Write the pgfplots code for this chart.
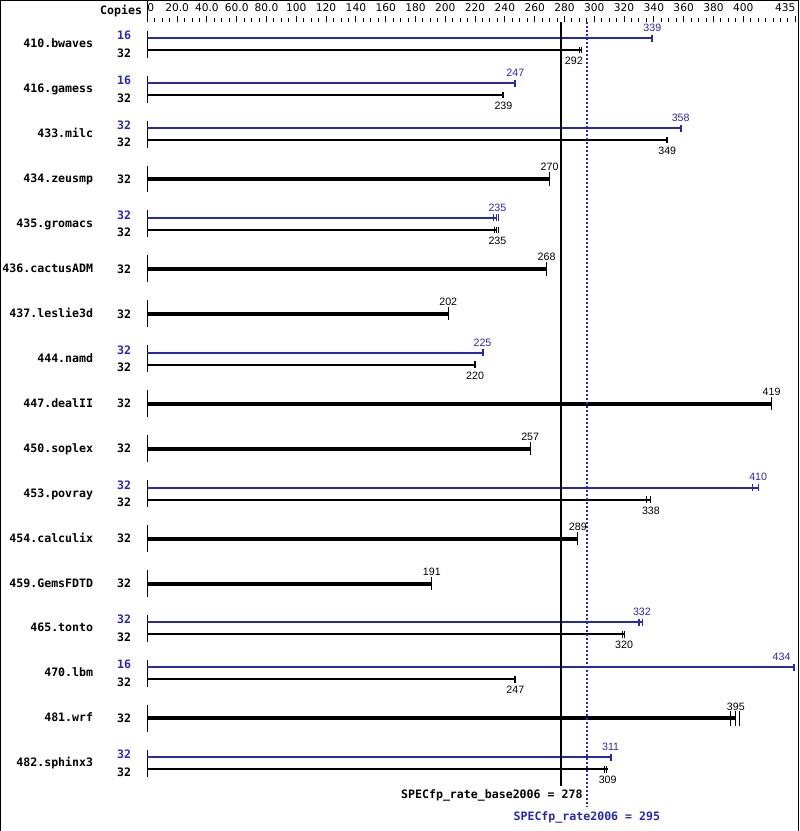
\documentclass[border=0pt]{standalone}
\usepackage{fontspec}
\usepackage{pgfplots}
\usepackage{pgfplotstable}
\pgfplotsset{compat=1.18}
\setmainfont{DejaVu Sans}
\newfontfamily\monofam{DejaVu Sans Mono}
\newfontfamily\valfam{Liberation Sans}
\newfontfamily\tickfam{DejaVu Sans}
\newcommand\namefont{\monofam\bfseries\fontsize{8.7}{10}\selectfont}
\newcommand\valfont{\valfam\fontsize{8}{9}\selectfont}
\newcommand\tickfont{\tickfam\fontsize{8}{9}\selectfont}
\definecolor{specblue}{RGB}{40,40,170}

% y values are pixel rows of the original (0 = top), x values are the score scale
\pgfplotstableread{
y v
37.7 339
82.7 247
127.7 358
217.7 235
352.7 225
487.7 410
622.7 332
667.7 434
757.7 311
}\peakbars
\pgfplotstableread{
y v
49.7 292
94.7 239
139.7 349
229.7 235
364.7 220
499.7 338
634.7 320
679.7 247
769.7 309
}\basebars
\pgfplotstableread{
y v
178.7 270
268.7 268
313.7 202
403.7 419
448.7 257
538.7 289
583.7 191
718.7 395
}\samebars
% end caps and individual runs
\pgfplotstableread{
x y
339 37.7
247 82.7
358 127.7
225 352.7
434 667.7
311 757.7
}\peakcaps
\pgfplotstableread{
x y
232.5 217.7
234.2 217.7
235.8 217.7
406.5 487.7
410.3 487.7
329.6 622.7
330.6 622.7
332.2 622.7
}\peakruns
\pgfplotstableread{
x y
239 94.7
349 139.7
220 364.7
247 679.7
}\basecaps
\pgfplotstableread{
x y
290.0 49.7
291.4 49.7
232.8 229.7
234.4 229.7
236.0 229.7
335.3 499.7
338.0 499.7
318.9 634.7
320.2 634.7
307.0 769.7
308.2 769.7
}\baseruns
\pgfplotstableread{
x y
270 178.7
268 268.7
202 313.7
419 403.7
257 448.7
289 538.7
191 583.7
}\samecaps
\pgfplotstableread{
x y
391.7 718.7
394.6 718.7
397.3 718.7
}\wrfruns
% value labels
\pgfplotstableread{
x y t
339 27.3 339
247 72.3 247
358 117.3 358
235 207.3 235
225 342.3 225
410 477.3 410
332 612.3 332
425.7 657.3 434
311 747.3 311
}\peaklabels
\pgfplotstableread{
x y t
286.3 60.5 292
239 105.5 239
349 150.5 349
235 240.5 235
220 375.5 220
338 510.5 338
320 645.5 320
247 690.5 247
309 780.5 309
}\baselabels
\pgfplotstableread{
x y t
270 166.8 270
268 256.8 268
202 301.8 202
419 391.8 419
257 436.8 257
289 526.8 289
191 571.8 191
395 706.8 395
}\samelabels
\pgfplotstableread{
y t
47.2 410.bwaves
92.2 416.gamess
137.2 433.milc
182.2 434.zeusmp
227.2 435.gromacs
272.2 436.cactusADM
317.2 437.leslie3d
362.2 444.namd
407.2 447.dealII
452.2 450.soplex
497.2 453.povray
542.2 454.calculix
587.2 459.GemsFDTD
632.2 465.tonto
677.2 470.lbm
722.2 481.wrf
767.2 482.sphinx3
}\names
\pgfplotstableread{
y t
35.0 16
80.0 16
125.0 32
215.0 32
350.0 32
485.0 32
620.0 32
665.0 16
755.0 32
}\peakcopies
\pgfplotstableread{
y t
52.4 32
97.4 32
142.4 32
178.7 32
232.4 32
268.7 32
313.7 32
367.4 32
403.7 32
448.7 32
502.4 32
538.7 32
583.7 32
637.4 32
682.4 32
718.7 32
772.4 32
}\basecopies

\begin{document}
\begin{tikzpicture}
\begin{axis}[name=main, scale only axis, width=599.25pt, height=623.25pt,
  xmin=-98.55, xmax=437.11, ymin=0, ymax=831, y dir=reverse,
  axis line style={draw=none}, ticks=none, clip=false]
  % frame
  \draw[line width=0.75pt] (rel axis cs:0,0) -- (rel axis cs:0,1) -- (rel axis cs:1,1) -- (rel axis cs:1,0);
  \draw[line width=0.75pt] (axis cs:0,0) -- (axis cs:0,22);
  \pgfplotsinvokeforeach{0,...,16}{
    \draw[line width=0.75pt] (axis cs:0,{30.2+45*#1}) -- (axis cs:0,{57.2+45*#1});
  }
  % bars
  \addplot[xcomb, mark=none, specblue, line width=1.5pt] table[x=v, y=y] {\peakbars};
  \addplot[xcomb, mark=none, black, line width=1.5pt] table[x=v, y=y] {\basebars};
  \addplot[xcomb, mark=none, black, line width=3pt] table[x=v, y=y] {\samebars};
  % caps
  \addplot[only marks, mark=|, mark size=2.6pt, specblue, mark options={line width=1.5pt}] table[x=x, y=y] {\peakcaps};
  \addplot[only marks, mark=|, mark size=2.6pt, specblue, mark options={line width=0.75pt}] table[x=x, y=y] {\peakruns};
  \addplot[only marks, mark=|, mark size=2.5pt, black, mark options={line width=1.5pt}] table[x=x, y=y] {\basecaps};
  \addplot[only marks, mark=|, mark size=2.5pt, black, mark options={line width=0.75pt}] table[x=x, y=y] {\baseruns};
  \addplot[only marks, mark=|, mark size=5pt, black, mark options={line width=0.75pt}] table[x=x, y=y] {\samecaps};
  \addplot[only marks, mark=|, mark size=5.6pt, black, mark options={line width=0.75pt}] table[x=x, y=y] {\wrfruns};
  % overall scores
  \addplot[black, line width=1.5pt] coordinates {(278,22) (278,786)};
  \addplot[specblue, line width=1.5pt, dash pattern=on 1.5pt off 1.5pt] coordinates {(295,22) (295,807)};
  % value labels
  \addplot[draw=none, mark=none, nodes near coords, point meta=explicit symbolic,
    every node near coord/.append style={anchor=center, inner sep=0pt, font=\valfont, text=specblue}]
    table[x=x, y=y, meta=t] {\peaklabels};
  \addplot[draw=none, mark=none, nodes near coords, point meta=explicit symbolic,
    every node near coord/.append style={anchor=center, inner sep=0pt, font=\valfont, text=black}]
    table[x=x, y=y, meta=t] {\baselabels};
  \addplot[draw=none, mark=none, nodes near coords, point meta=explicit symbolic,
    every node near coord/.append style={anchor=center, inner sep=0pt, font=\valfont, text=black}]
    table[x=x, y=y, meta=t] {\samelabels};
  % benchmark names and copies
  \addplot[draw=none, mark=none, nodes near coords, point meta=explicit symbolic,
    every node near coord/.append style={anchor=base east, inner sep=0pt, font=\namefont, text=black}]
    table[x expr=-36.2, y=y, meta=t] {\names};
  \addplot[draw=none, mark=none, nodes near coords, point meta=explicit symbolic,
    every node near coord/.append style={anchor=east, inner sep=0pt, font=\namefont, text=specblue}]
    table[x expr=-10.7, y=y, meta=t] {\peakcopies};
  \addplot[draw=none, mark=none, nodes near coords, point meta=explicit symbolic,
    every node near coord/.append style={anchor=east, inner sep=0pt, font=\namefont, text=black}]
    table[x expr=-10.7, y=y, meta=t] {\basecopies};
  \node[anchor=east, inner sep=0pt, font=\namefont] at (axis cs:-3.35,10.3) {Copies};
  \node[anchor=base east, inner sep=0pt, font=\namefont] at (axis cs:292.3,799.3) {SPECfp\_rate\_base2006 = 278};
  \node[anchor=base, inner sep=0pt, font=\namefont, text=specblue] at (axis cs:295,821) {SPECfp\_rate2006 = 295};
\end{axis}
\begin{axis}[at={(main.north west)}, anchor=north west, scale only axis,
  width=599.25pt, height=16.5pt, xmin=-98.55, xmax=437.11, ymin=0, ymax=1,
  axis line style={draw=none}, ytick=\empty,
  xtick={0,20,...,400,435}, minor xtick={5,10,...,430},
  xtick pos=lower, xticklabel pos=upper, tick align=inside,
  major tick length=4.7pt, minor tick length=3.2pt,
  tick style={black, line width=0.75pt},
  xticklabels={\makebox[0pt][l]{0},20.0,40.0,60.0,80.0,100,120,140,160,180,200,220,240,260,280,300,320,340,360,380,400,\makebox[0pt][r]{435}},
  xticklabel style={font=\tickfont, anchor=north, inner sep=0pt, yshift=-2.5pt}]
\end{axis}
\end{tikzpicture}
\end{document}
